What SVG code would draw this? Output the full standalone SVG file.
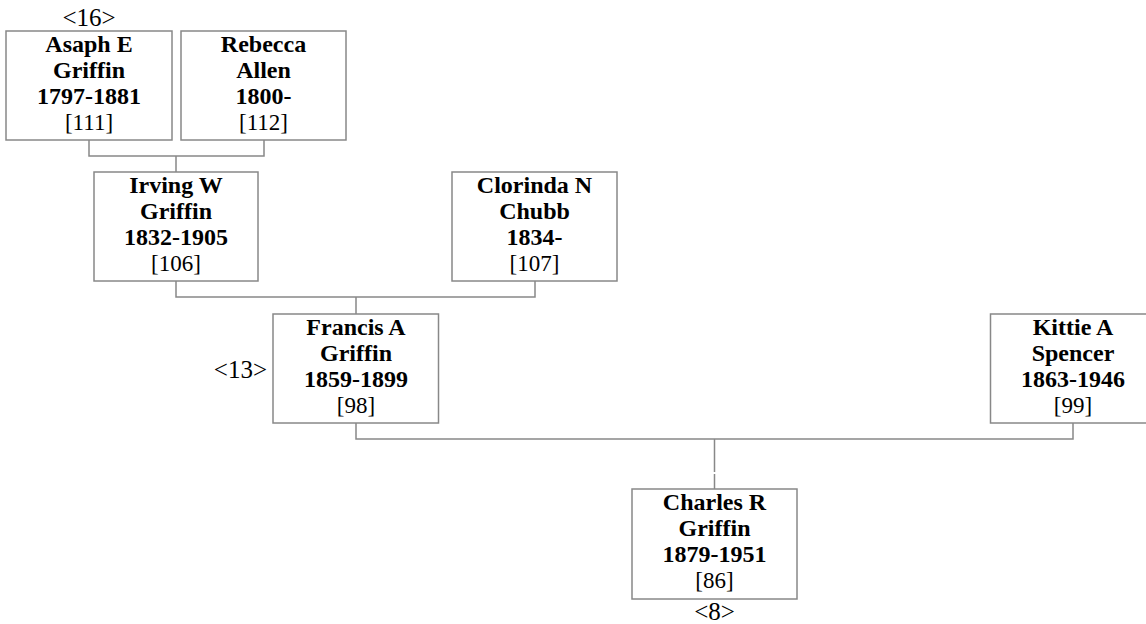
<svg xmlns="http://www.w3.org/2000/svg" width="1146" height="624" viewBox="0 0 1146 624">
<style>
.box{fill:#fff;stroke:#888;stroke-width:1.5}
.ln{fill:none;stroke:#888;stroke-width:1.5}
text{font-family:"Liberation Serif","Times New Roman",serif;font-size:23px;fill:#000;text-anchor:middle}
.b{font-weight:bold;font-size:24px}
.lab{font-size:25px}
</style>
<rect width="1146" height="624" fill="#fff"/>
<g id="connectors">
<path class="ln" d="M89,140V156H264V140M176,156V172"/>
<path class="ln" d="M176,281V297H535V281M356,297V314"/>
<path class="ln" d="M356,423V439H1073V423M714.5,439V472M714.5,474V489"/>
</g>
<g id="asaph">
<rect class="box" x="6" y="31" width="166" height="109"/>
<text x="89" y="52" class="b">Asaph E</text>
<text x="89" y="78" class="b">Griffin</text>
<text x="89" y="104" class="b">1797-1881</text>
<text x="89" y="130">[111]</text>
</g>
<g id="rebecca">
<rect class="box" x="181" y="31" width="165" height="109"/>
<text x="263.5" y="52" class="b">Rebecca</text>
<text x="263.5" y="78" class="b">Allen</text>
<text x="263.5" y="104" class="b">1800-</text>
<text x="263.5" y="130">[112]</text>
</g>
<g id="irving">
<rect class="box" x="94" y="172" width="164" height="109"/>
<text x="176" y="193" class="b">Irving W</text>
<text x="176" y="219" class="b">Griffin</text>
<text x="176" y="245" class="b">1832-1905</text>
<text x="176" y="271">[106]</text>
</g>
<g id="clorinda">
<rect class="box" x="452" y="172" width="165" height="109"/>
<text x="534.5" y="193" class="b">Clorinda N</text>
<text x="534.5" y="219" class="b">Chubb</text>
<text x="534.5" y="245" class="b">1834-</text>
<text x="534.5" y="271">[107]</text>
</g>
<g id="francis">
<rect class="box" x="273" y="314" width="165.5" height="109"/>
<text x="356" y="335" class="b">Francis A</text>
<text x="356" y="361" class="b">Griffin</text>
<text x="356" y="387" class="b">1859-1899</text>
<text x="356" y="413">[98]</text>
</g>
<g id="kittie">
<rect class="box" x="990.5" y="314" width="165" height="109"/>
<text x="1073" y="335" class="b">Kittie A</text>
<text x="1073" y="361" class="b">Spencer</text>
<text x="1073" y="387" class="b">1863-1946</text>
<text x="1073" y="413">[99]</text>
</g>
<g id="charles">
<rect class="box" x="632" y="489" width="165" height="110"/>
<text x="714.5" y="510" class="b">Charles R</text>
<text x="714.5" y="536" class="b">Griffin</text>
<text x="714.5" y="562" class="b">1879-1951</text>
<text x="714.5" y="588">[86]</text>
</g>
<g id="labels">
<text class="lab" x="89" y="26">&lt;16&gt;</text>
<text class="lab" x="267" y="378" style="text-anchor:end">&lt;13&gt;</text>
<text class="lab" x="714.5" y="620">&lt;8&gt;</text>
</g>
</svg>
